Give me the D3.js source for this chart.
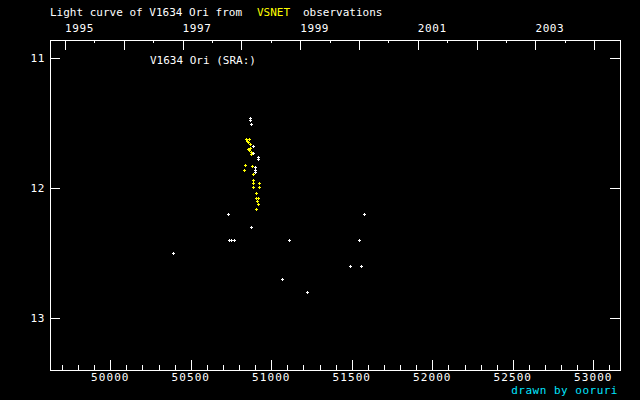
<!DOCTYPE html>
<html>
<head>
<meta charset="utf-8">
<script src="https://cdn.jsdelivr.net/npm/d3@7"></script>
<style>
html,body{margin:0;padding:0;background:#000;}
svg{display:block;}
text{font-family:"DejaVu Sans Mono","Liberation Mono",monospace;font-size:11px;}
</style>
</head>
<body>
<svg id="c" width="640" height="400"></svg>
<script>
// ---- data (JD - 2400000, visual magnitude) ----
const whiteJD  = [50389,50731,50739,50752,50770,50871,51112,51068,51224,51491,51559,51547,51578,
                  50870,50870,50876,50888,50888,50919,50919,50901,50901,50901];
const whiteMag = [12.5,12.2,12.4,12.4,12.4,12.3,12.4,12.7,12.8,12.6,12.6,12.4,12.2,
                  11.46,11.48,11.51,11.68,11.73,11.76,11.78,11.84,11.86,11.88];
const yellowJD  = [50845,50860,50857,50868,50853,50863,50872,50874,50839,50832,50882,50888,
                   50888,50888,50925,50888,50925,50907,50903,50916,50909,50919,50907,50849,50866];
const yellowMag = [11.62,11.62,11.65,11.66,11.70,11.71,11.72,11.74,11.82,11.86,11.83,11.89,
                   11.94,11.96,11.96,11.99,11.99,12.04,12.08,12.08,12.10,12.12,12.16,11.64,11.69];
const magTicks = [11,12,13];
const jdMajor = [50000,50500,51000,51500,52000,52500,53000];
const yearTicks = [1995,1996,1997,1998,1999,2000,2001,2002,2003,2004];
const yearLabels = [1995,1997,1999,2001,2003];

const svg = d3.select("#c");
svg.append("rect").attr("width",640).attr("height",400).attr("fill","#000");

const L=50, R=620, T=40, B=370;
const x = d3.scaleLinear().domain([49625.5,53165.8]).range([L,R]);
const y = d3.scaleLinear().domain([10.862,13.4]).range([T,B]);
const yearToJD = yr => 49718.5 + (yr-1995)*365.25;
const px = v => Math.round(v)+0.5;

const g = svg.append("g").attr("stroke","#fff").attr("stroke-width",1)
  .attr("shape-rendering","crispEdges").attr("fill","none");

// frame
g.append("path").attr("d",`M${L+0.5},${T+0.5}H${R+0.5}V${B+0.5}H${L+0.5}Z`);

// bottom ticks
const minorJD = d3.range(49700,53166,100);
minorJD.forEach(v=>{
  const len = v%500===0 ? 10 : 5;
  g.append("line").attr("x1",px(x(v))).attr("x2",px(x(v))).attr("y1",B).attr("y2",B-len);
});
// left/right ticks
magTicks.forEach(m=>{
  g.append("line").attr("x1",L).attr("x2",L+10).attr("y1",px(y(m))).attr("y2",px(y(m)));
  g.append("line").attr("x1",R-10).attr("x2",R).attr("y1",px(y(m))).attr("y2",px(y(m)));
});
// top year ticks
yearTicks.forEach(yr=>{
  [0,0.5].forEach(f=>{
    const xv = x(yearToJD(yr+f));
    if (xv<L || xv>R) return;
    const len = f===0 ? 10 : 3;
    g.append("line").attr("x1",px(xv)).attr("x2",px(xv)).attr("y1",T).attr("y2",T+len);
  });
});

// labels
const t = svg.append("g").attr("fill","#fff");
jdMajor.forEach(v=>{
  t.append("text").attr("x",x(v)).attr("y",381).attr("text-anchor","middle")
   .attr("letter-spacing","1.1").text(v);
});
magTicks.forEach(m=>{
  t.append("text").attr("x",45).attr("y",y(m)+4).attr("text-anchor","end")
   .attr("letter-spacing","0.6").text(m);
});
yearLabels.forEach(yr=>{
  t.append("text").attr("x",x(yearToJD(yr))).attr("y",32)
   .attr("letter-spacing","0.6").text(yr);
});
t.append("text").attr("x",50).attr("y",16).attr("font-size","10.5px").text("Light curve of V1634 Ori from");
t.append("text").attr("x",257).attr("y",16).attr("font-size","10.5px").attr("fill","#ffff00").text("VSNET");
t.append("text").attr("x",303).attr("y",16).attr("font-size","10.5px").text("observations");
t.append("text").attr("x",150).attr("y",64).attr("font-size","10.5px").text("V1634 Ori (SRA:)");
t.append("text").attr("x",618).attr("y",394).attr("text-anchor","end").attr("font-size","10px")
 .attr("letter-spacing","0.5").attr("fill","#00e5ff").text("drawn by ooruri");

// markers
function plot(jd, mag, color){
  const pts = jd.map((d,i)=>({jd:d,mag:mag[i]}));
  svg.append("g").attr("stroke",color).attr("stroke-width",1).attr("shape-rendering","crispEdges")
    .selectAll("path").data(pts).join("path")
    .attr("d",d=>{
      const cx=Math.round(x(d.jd)), cy=Math.round(y(d.mag));
      return `M${cx-1},${cy+0.5}H${cx+2}M${cx+0.5},${cy-1}V${cy+2}`;
    });
}
plot(whiteJD, whiteMag, "#fff");
plot(yellowJD, yellowMag, "#ffff00");
</script>
</body>
</html>
